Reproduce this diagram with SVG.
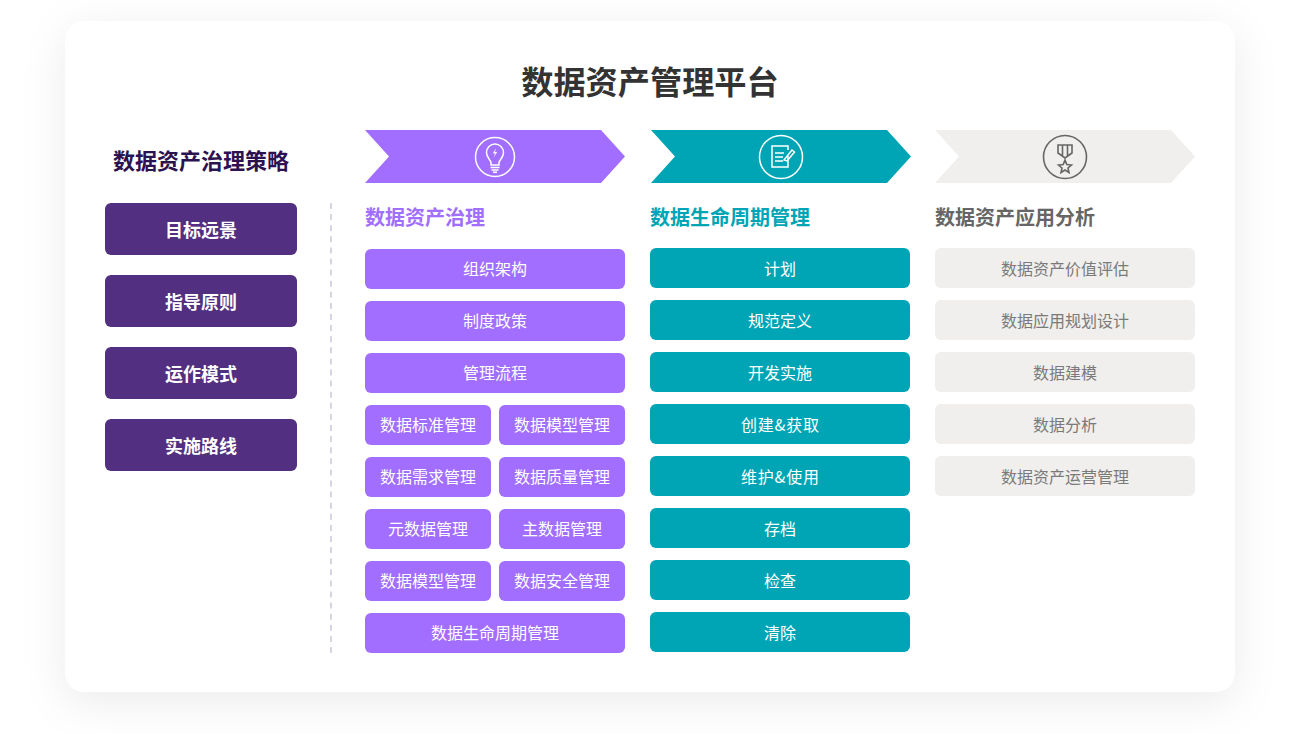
<svg xmlns="http://www.w3.org/2000/svg" width="1306" height="734" viewBox="0 0 1306 734">
<style>
text{font-family:"Noto Sans CJK SC","Liberation Sans",sans-serif;text-anchor:middle}
.t{font-size:16px;fill:#fff}
.g{font-size:16px;fill:#7a7a7a}
.l{font-size:18px;font-weight:700;fill:#fff}
.h{font-size:20px;font-weight:700;text-anchor:start}
.p{fill:#a16eff}.c{fill:#00a5b5}.y{fill:#f0efed}.d{fill:#522f80}
.iw{fill:none;stroke:#fff;stroke-width:1.5}
.ig{fill:none;stroke:#666;stroke-width:1.6}
</style>
<defs>
<filter id="sh" x="-10%" y="-15%" width="120%" height="135%"><feDropShadow dx="0" dy="10" stdDeviation="22" flood-color="#000" flood-opacity=".08"/></filter>
</defs>
<rect width="1306" height="734" fill="#fff"/>
<rect x="65" y="21" width="1170" height="671" rx="20" fill="#fff" filter="url(#sh)"/>
<text x="650" y="94" style="font-size:32.2px;font-weight:700;fill:#333">数据资产管理平台</text>
<g id="connectors"><line x1="331" y1="203" x2="331" y2="653" stroke="#cdc6d8" stroke-width="1.5" stroke-dasharray="6 5.1"/></g>
<g id="strategy">
<text x="201" y="169" style="font-size:22px;font-weight:700;fill:#2c1250">数据资产治理策略</text>
<g id="s1"><rect class="d" x="105" y="203" width="192" height="52" rx="6"/><text class="l" x="201" y="236.500">目标远景</text></g>
<g id="s2"><rect class="d" x="105" y="275" width="192" height="52" rx="6"/><text class="l" x="201" y="308.500">指导原则</text></g>
<g id="s3"><rect class="d" x="105" y="347" width="192" height="52" rx="6"/><text class="l" x="201" y="380.500">运作模式</text></g>
<g id="s4"><rect class="d" x="105" y="419" width="192" height="52" rx="6"/><text class="l" x="201" y="452.500">实施路线</text></g>
</g>
<g id="head1"><path class="p" d="M365 130H601L625 156.500L601 183H365L389 156.500Z"/>
<circle class="iw" cx="495" cy="157" r="19.500"/>
<path class="iw" d="M491 165V162.500C490 159 486.500 157.500 486.500 152.500A8.500 8.500 0 0 1 503.500 152.500C503.500 157.500 500 159 499 162.500V165Z"/>
<path class="iw" d="M490.500 167.500H499.500M491.500 170H498.500M493 172.300H497" stroke-width="1.300"/>
<path d="M496 148L492.800 153.500H495L493.800 157.500L497.200 152H495Z" fill="#fff" opacity=".9"/></g>
<text class="h" x="365" y="225" style="fill:#a16eff">数据资产治理</text>
<g id="head2"><path class="c" d="M651 130H887L911 156.500L887 183H651L675 156.500Z"/>
<circle class="iw" cx="781" cy="157" r="21.500"/>
<path class="iw" d="M788 156V167H772V146H788V150M775 153H784M775 157H783M775 161H783"/>
<path class="iw" d="M784 160L792 150L794.500 152L787 161Z"/></g>
<text class="h" x="650" y="225" style="fill:#00a5b5">数据生命周期管理</text>
<g id="head3"><path class="y" d="M935 130H1171L1195 156.500L1171 183H935L959 156.500Z"/>
<circle class="ig" cx="1065" cy="157" r="21.500"/>
<path class="ig" d="M1058 145H1072V153L1065 158L1058 153ZM1062.500 145V156M1067.500 145V156"/>
<path class="ig" d="M1065 160L1066.800 164.500L1071.500 165L1068 168L1069 172.500L1065 170L1061 172.500L1062 168L1058.500 165L1063.200 164.500Z"/></g>
<text class="h" x="935" y="225" style="fill:#666">数据资产应用分析</text>
<g id="col1">
<g id="a1"><rect class="p" x="365" y="249" width="260" height="40" rx="6"/><text class="t" x="495" y="275">组织架构</text></g>
<g id="a2"><rect class="p" x="365" y="301" width="260" height="40" rx="6"/><text class="t" x="495" y="327">制度政策</text></g>
<g id="a3"><rect class="p" x="365" y="353" width="260" height="40" rx="6"/><text class="t" x="495" y="379">管理流程</text></g>
<g id="a4"><rect class="p" x="365" y="405" width="126" height="40" rx="6"/><text class="t" x="428" y="431">数据标准管理</text></g>
<g id="a5"><rect class="p" x="499" y="405" width="126" height="40" rx="6"/><text class="t" x="562" y="431">数据模型管理</text></g>
<g id="a6"><rect class="p" x="365" y="457" width="126" height="40" rx="6"/><text class="t" x="428" y="483">数据需求管理</text></g>
<g id="a7"><rect class="p" x="499" y="457" width="126" height="40" rx="6"/><text class="t" x="562" y="483">数据质量管理</text></g>
<g id="a8"><rect class="p" x="365" y="509" width="126" height="40" rx="6"/><text class="t" x="428" y="535">元数据管理</text></g>
<g id="a9"><rect class="p" x="499" y="509" width="126" height="40" rx="6"/><text class="t" x="562" y="535">主数据管理</text></g>
<g id="a10"><rect class="p" x="365" y="561" width="126" height="40" rx="6"/><text class="t" x="428" y="587">数据模型管理</text></g>
<g id="a11"><rect class="p" x="499" y="561" width="126" height="40" rx="6"/><text class="t" x="562" y="587">数据安全管理</text></g>
<g id="a12"><rect class="p" x="365" y="613" width="260" height="40" rx="6"/><text class="t" x="495" y="639">数据生命周期管理</text></g>
</g>
<g id="col2">
<g id="b1"><rect class="c" x="650" y="248" width="260" height="40" rx="6"/><text class="t" x="780" y="274.500">计划</text></g>
<g id="b2"><rect class="c" x="650" y="300" width="260" height="40" rx="6"/><text class="t" x="780" y="326.500">规范定义</text></g>
<g id="b3"><rect class="c" x="650" y="352" width="260" height="40" rx="6"/><text class="t" x="780" y="378.500">开发实施</text></g>
<g id="b4"><rect class="c" x="650" y="404" width="260" height="40" rx="6"/><text class="t" x="780" y="430.500" textLength="78">创建&amp;获取</text></g>
<g id="b5"><rect class="c" x="650" y="456" width="260" height="40" rx="6"/><text class="t" x="780" y="482.500" textLength="78">维护&amp;使用</text></g>
<g id="b6"><rect class="c" x="650" y="508" width="260" height="40" rx="6"/><text class="t" x="780" y="534.500">存档</text></g>
<g id="b7"><rect class="c" x="650" y="560" width="260" height="40" rx="6"/><text class="t" x="780" y="586.500">检查</text></g>
<g id="b8"><rect class="c" x="650" y="612" width="260" height="40" rx="6"/><text class="t" x="780" y="638.500">清除</text></g>
</g>
<g id="col3">
<g id="c1"><rect class="y" x="935" y="248" width="260" height="40" rx="6"/><text class="g" x="1065" y="274.500">数据资产价值评估</text></g>
<g id="c2"><rect class="y" x="935" y="300" width="260" height="40" rx="6"/><text class="g" x="1065" y="326.500">数据应用规划设计</text></g>
<g id="c3"><rect class="y" x="935" y="352" width="260" height="40" rx="6"/><text class="g" x="1065" y="378.500">数据建模</text></g>
<g id="c4"><rect class="y" x="935" y="404" width="260" height="40" rx="6"/><text class="g" x="1065" y="430.500">数据分析</text></g>
<g id="c5"><rect class="y" x="935" y="456" width="260" height="40" rx="6"/><text class="g" x="1065" y="482.500">数据资产运营管理</text></g>
</g>
</svg>
